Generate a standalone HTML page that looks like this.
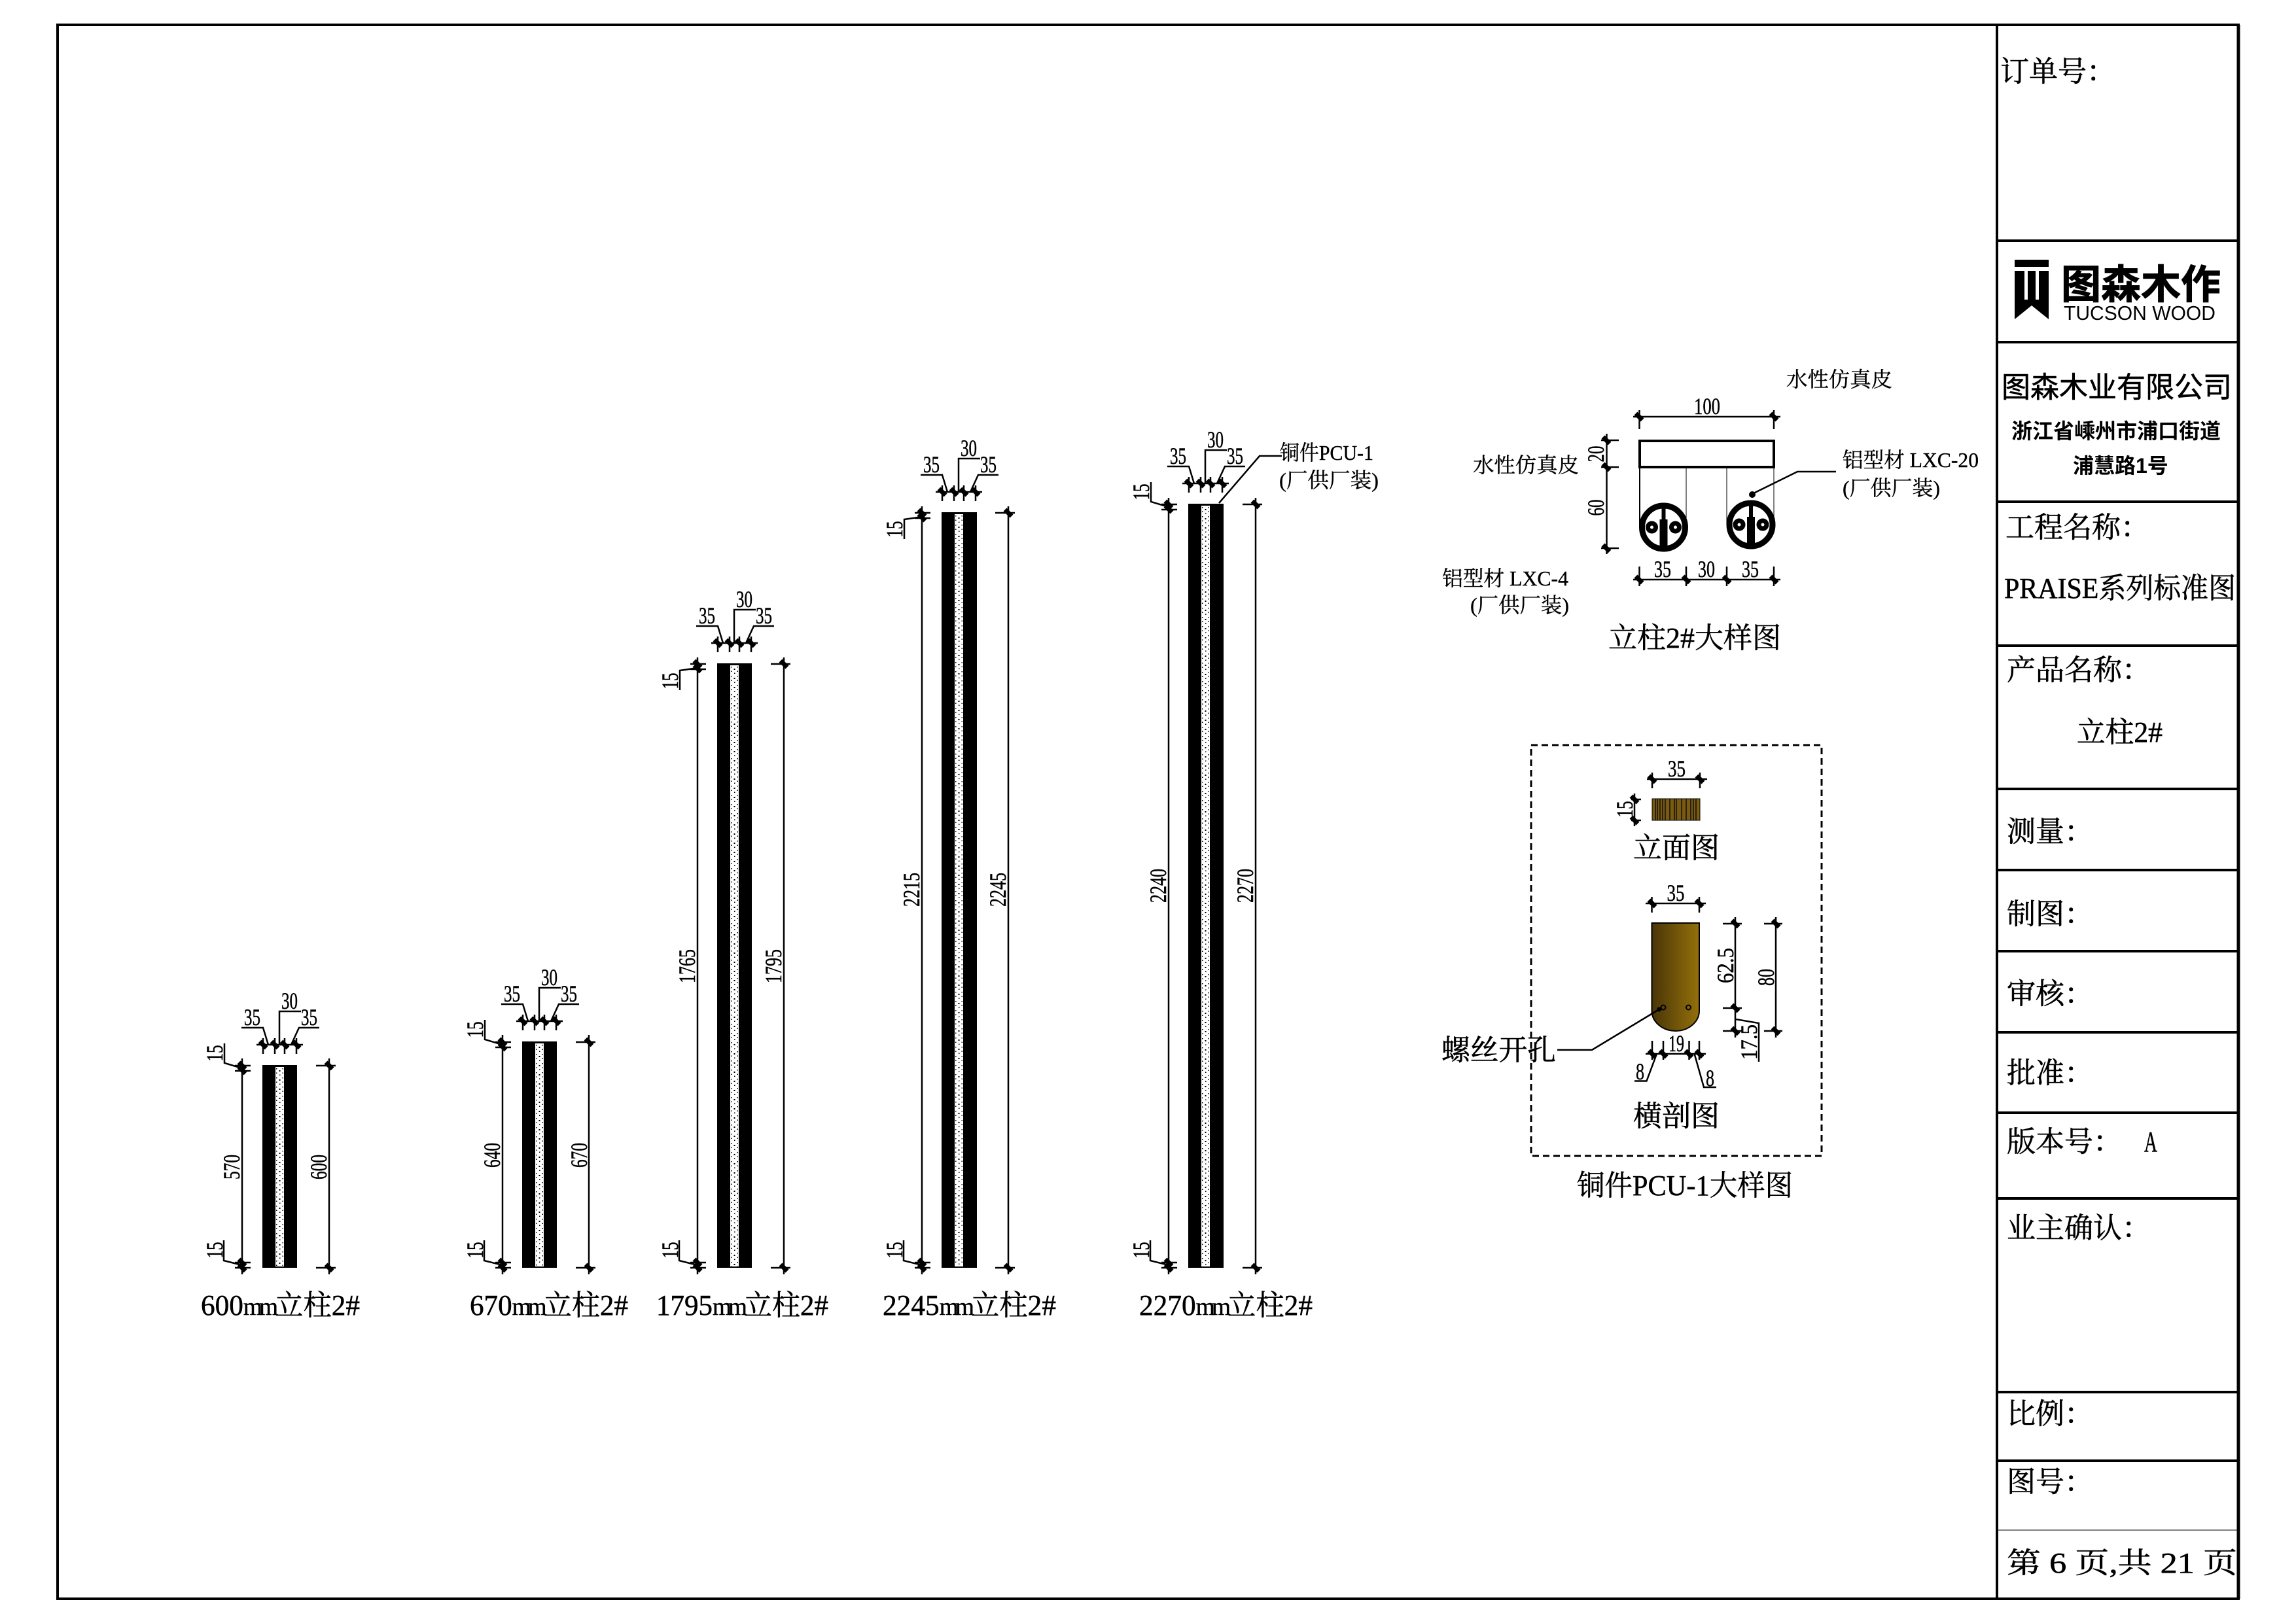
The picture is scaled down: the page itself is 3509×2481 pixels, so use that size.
<!DOCTYPE html>
<html lang="zh">
<head>
<meta charset="utf-8">
<title>立柱2#</title>
<style>
html,body{margin:0;padding:0;background:#fff;}
svg{display:block;}
text{fill:#000;}
.s{font-family:"Liberation Serif","Noto Serif CJK SC",serif;}
.d{font-family:"Liberation Serif",serif;font-size:36px;stroke:#000;stroke-width:.5px;}
.c{font-family:"Liberation Serif","Noto Serif CJK SC",serif;font-size:32px;stroke:#000;stroke-width:.4px;}
.l{font-family:"Liberation Serif","Noto Serif CJK SC",serif;font-size:44px;stroke:#000;stroke-width:.5px;}
.t{font-family:"Liberation Serif","Noto Serif CJK SC",serif;font-size:44px;stroke:#000;stroke-width:.6px;}
.h{font-family:"Liberation Sans","Noto Sans CJK SC",sans-serif;}
.ln{fill:none;stroke:#000;stroke-width:2.5;}
</style>
</head>
<body>
<svg xmlns="http://www.w3.org/2000/svg" width="3509" height="2481" viewBox="0 0 3509 2481">
<defs>
<path id="k" d="M-5,-5 L5,5" stroke="#000" stroke-width="7" fill="none"/>
<pattern id="h" patternUnits="userSpaceOnUse" x="20" y="3" width="13" height="14">
<rect width="13" height="14" fill="#fff"/>
<rect x="1" y="2" width="1.5" height="1.5" fill="#000"/><rect x="10.5" y="2" width="1.5" height="1.5" fill="#000"/>
<rect x="5.5" y="5" width="2" height="2" fill="#000"/><rect x="1" y="8.5" width="1.5" height="1.5" fill="#000"/>
<rect x="10.5" y="8.5" width="1.5" height="1.5" fill="#000"/><rect x="6" y="11.5" width="1.5" height="1.5" fill="#000"/>
</pattern>
<g id="top">
<path class="ln" d="M-9,-31H62M1,-41V-17M19,-41V-17M34,-41V-17M52,-41V-17M9,-31L1,-57H-32M26,-31V-82H59M44,-31L56,-57H87"/>
<use href="#k" x="1" y="-31"/><use href="#k" x="19" y="-31"/><use href="#k" x="34" y="-31"/><use href="#k" x="52" y="-31"/>
</g>
<g id="lt">
<path class="ln" d="M-11,1H13M-11,9H13"/>
<use href="#k" x="0" y="1"/><use href="#k" x="0" y="8"/>
</g>
<g id="lb">
<path class="ln" d="M-11,-8H13M-11,0H13M0,-4L-28,-11V-42"/>
<use href="#k" x="0" y="-8"/><use href="#k" x="0" y="0"/>
</g>
<g id="rt"><path class="ln" d="M-20,1H10"/><use href="#k" x="0" y="1"/></g>
<g id="rb"><path class="ln" d="M-20,0H10"/><use href="#k" x="0" y="0"/></g>
<linearGradient id="cu" x1="0" x2="1" y1="0" y2="0"><stop offset="0" stop-color="#4a3608"/><stop offset="1" stop-color="#94700a"/></linearGradient>
<g id="wheel">
<circle r="33" fill="#fff" stroke="#000" stroke-width="9"/>
<path d="M-3,-34H3V-12H6V28L10,34H-10L-6,28V-12H-3Z" fill="#000"/>
<circle cx="-18" r="6" fill="#fff" stroke="#000" stroke-width="7"/>
<circle cx="18" r="6" fill="#fff" stroke="#000" stroke-width="7"/>
</g>
</defs>

<rect width="3509" height="2481" fill="#fff"/>

<!-- frame -->
<rect x="88" y="38" width="3333" height="2406" fill="none" stroke="#000" stroke-width="4"/>
<path d="M3421,38V2444" stroke="#000" stroke-width="5" fill="none"/>
<path d="M3052,38V2444" stroke="#000" stroke-width="4" fill="none"/>
<path d="M3050,368H3421M3050,523H3421M3050,767H3421M3050,987H3421M3050,1206H3421M3050,1330H3421M3050,1454H3421M3050,1578H3421M3050,1701H3421M3050,1832H3421M3052,2128H3421M3050,2233H3421" stroke="#000" stroke-width="4" fill="none"/>
<path d="M3052,2339H3421" stroke="#000" stroke-width="1" fill="none"/>

<!-- title block -->
<text class="t" x="3057" y="124">订单号：</text>
<path d="M3079,397H3131V488L3105,467L3079,488Z" fill="#000"/>
<path d="M3079,408H3131V414H3079ZM3094,414H3099V458H3094ZM3111,414H3116V458H3111Z" fill="#fff"/>
<text class="h" x="3150" y="456" font-size="61" font-weight="700" stroke="#000" stroke-width="1">图森木作</text>
<text class="h" x="3154" y="489" font-size="31" textLength="232" lengthAdjust="spacingAndGlyphs">TUCSON WOOD</text>
<text class="h" x="3059" y="607" font-size="44" stroke="#000" stroke-width="0.6">图森木业有限公司</text>
<text class="h" x="3074" y="670" font-size="32" font-weight="700">浙江省嵊州市浦口街道</text>
<text class="h" x="3168" y="723" font-size="32" font-weight="700">浦慧路1号</text>
<text class="t" x="3065" y="821">工程名称：</text>
<text class="t" x="3063" y="914" textLength="354" lengthAdjust="spacingAndGlyphs">PRAISE系列标准图</text>
<text class="t" x="3067" y="1039">产品名称：</text>
<text class="t" x="3174" y="1134" textLength="131" lengthAdjust="spacingAndGlyphs">立柱2#</text>
<text class="t" x="3067" y="1286">测量：</text>
<text class="t" x="3067" y="1412">制图：</text>
<text class="t" x="3067" y="1534">审核：</text>
<text class="t" x="3067" y="1655">批准：</text>
<text class="t" x="3067" y="1760">版本号：</text>
<text class="t" x="3277" y="1760" textLength="20" lengthAdjust="spacingAndGlyphs">A</text>
<text class="t" x="3067" y="1892">业主确认：</text>
<text class="t" x="3067" y="2176">比例：</text>
<text class="t" x="3067" y="2280">图号：</text>
<text class="t" x="3067" y="2404" textLength="352" lengthAdjust="spacingAndGlyphs" xml:space="preserve">第 6 页,共 21 页</text>

<!-- column 1 : 600 -->
<g transform="translate(401,1628)"><rect width="53" height="310" fill="#000"/><rect x="20" y="3" width="13" height="305" fill="url(#h)"/></g>
<use href="#top" x="401" y="1628"/>
<text class="d" x="373" y="1567" textLength="25" lengthAdjust="spacingAndGlyphs">35</text>
<text class="d" x="430" y="1542" textLength="25" lengthAdjust="spacingAndGlyphs">30</text>
<text class="d" x="460" y="1567" textLength="25" lengthAdjust="spacingAndGlyphs">35</text>
<path class="ln" d="M370,1618V1948M503,1618V1948M370,1633L343,1625V1595"/>
<use href="#lt" x="370" y="1628"/><use href="#lb" x="370" y="1938"/><use href="#rt" x="503" y="1628"/><use href="#rb" x="503" y="1938"/>
<text class="d" text-anchor="middle" textLength="25" lengthAdjust="spacingAndGlyphs" transform="translate(340,1610) rotate(-90)">15</text>
<text class="d" text-anchor="middle" textLength="25" lengthAdjust="spacingAndGlyphs" transform="translate(340,1911) rotate(-90)">15</text>
<text class="d" text-anchor="middle" textLength="38" lengthAdjust="spacingAndGlyphs" transform="translate(366,1784) rotate(-90)">570</text>
<text class="d" text-anchor="middle" textLength="38" lengthAdjust="spacingAndGlyphs" transform="translate(499,1784) rotate(-90)">600</text>
<text class="l" x="307" y="2010" textLength="243" lengthAdjust="spacingAndGlyphs">600<tspan font-size="38" letter-spacing="-5">mm</tspan>立柱2#</text>

<!-- column 2 : 670 -->
<g transform="translate(798,1592)"><rect width="53" height="346" fill="#000"/><rect x="20" y="3" width="13" height="341" fill="url(#h)"/></g>
<use href="#top" x="798" y="1592"/>
<text class="d" x="770" y="1531" textLength="25" lengthAdjust="spacingAndGlyphs">35</text>
<text class="d" x="827" y="1506" textLength="25" lengthAdjust="spacingAndGlyphs">30</text>
<text class="d" x="857" y="1531" textLength="25" lengthAdjust="spacingAndGlyphs">35</text>
<path class="ln" d="M768,1582V1948M900,1582V1948M768,1597L741,1589V1559"/>
<use href="#lt" x="768" y="1592"/><use href="#lb" x="768" y="1938"/><use href="#rt" x="900" y="1592"/><use href="#rb" x="900" y="1938"/>
<text class="d" text-anchor="middle" textLength="25" lengthAdjust="spacingAndGlyphs" transform="translate(738,1574) rotate(-90)">15</text>
<text class="d" text-anchor="middle" textLength="25" lengthAdjust="spacingAndGlyphs" transform="translate(738,1911) rotate(-90)">15</text>
<text class="d" text-anchor="middle" textLength="38" lengthAdjust="spacingAndGlyphs" transform="translate(764,1766) rotate(-90)">640</text>
<text class="d" text-anchor="middle" textLength="38" lengthAdjust="spacingAndGlyphs" transform="translate(897,1766) rotate(-90)">670</text>
<text class="l" x="718" y="2010" textLength="242" lengthAdjust="spacingAndGlyphs">670<tspan font-size="38" letter-spacing="-5">mm</tspan>立柱2#</text>

<!-- column 3 : 1795 -->
<g transform="translate(1096,1014)"><rect width="53" height="924" fill="#000"/><rect x="20" y="3" width="13" height="919" fill="url(#h)"/></g>
<use href="#top" x="1096" y="1014"/>
<text class="d" x="1068" y="953" textLength="25" lengthAdjust="spacingAndGlyphs">35</text>
<text class="d" x="1125" y="928" textLength="25" lengthAdjust="spacingAndGlyphs">30</text>
<text class="d" x="1155" y="953" textLength="25" lengthAdjust="spacingAndGlyphs">35</text>
<path class="ln" d="M1066,1005V1948M1198,1005V1948M1066,1021L1039,1025V1055"/>
<use href="#lt" x="1066" y="1014"/><use href="#lb" x="1066" y="1938"/><use href="#rt" x="1198" y="1014"/><use href="#rb" x="1198" y="1938"/>
<text class="d" text-anchor="middle" textLength="25" lengthAdjust="spacingAndGlyphs" transform="translate(1036,1041) rotate(-90)">15</text>
<text class="d" text-anchor="middle" textLength="25" lengthAdjust="spacingAndGlyphs" transform="translate(1036,1911) rotate(-90)">15</text>
<text class="d" text-anchor="middle" textLength="52" lengthAdjust="spacingAndGlyphs" transform="translate(1062,1477) rotate(-90)">1765</text>
<text class="d" text-anchor="middle" textLength="52" lengthAdjust="spacingAndGlyphs" transform="translate(1194,1477) rotate(-90)">1795</text>
<text class="l" x="1003" y="2010" textLength="263" lengthAdjust="spacingAndGlyphs">1795<tspan font-size="38" letter-spacing="-5">mm</tspan>立柱2#</text>

<!-- column 4 : 2245 -->
<g transform="translate(1439,783)"><rect width="54" height="1155" fill="#000"/><rect x="20" y="3" width="13" height="1150" fill="url(#h)"/></g>
<use href="#top" x="1439" y="783"/>
<text class="d" x="1411" y="722" textLength="25" lengthAdjust="spacingAndGlyphs">35</text>
<text class="d" x="1468" y="697" textLength="25" lengthAdjust="spacingAndGlyphs">30</text>
<text class="d" x="1498" y="722" textLength="25" lengthAdjust="spacingAndGlyphs">35</text>
<path class="ln" d="M1409,774V1948M1541,774V1948M1409,790L1382,794V824"/>
<use href="#lt" x="1409" y="783"/><use href="#lb" x="1409" y="1938"/><use href="#rt" x="1541" y="783"/><use href="#rb" x="1541" y="1938"/>
<text class="d" text-anchor="middle" textLength="25" lengthAdjust="spacingAndGlyphs" transform="translate(1379,809) rotate(-90)">15</text>
<text class="d" text-anchor="middle" textLength="25" lengthAdjust="spacingAndGlyphs" transform="translate(1379,1911) rotate(-90)">15</text>
<text class="d" text-anchor="middle" textLength="52" lengthAdjust="spacingAndGlyphs" transform="translate(1405,1360) rotate(-90)">2215</text>
<text class="d" text-anchor="middle" textLength="52" lengthAdjust="spacingAndGlyphs" transform="translate(1537,1360) rotate(-90)">2245</text>
<text class="l" x="1349" y="2010" textLength="265" lengthAdjust="spacingAndGlyphs">2245<tspan font-size="38" letter-spacing="-5">mm</tspan>立柱2#</text>

<!-- column 5 : 2270 -->
<g transform="translate(1816,770)"><rect width="54" height="1168" fill="#000"/><rect x="20" y="3" width="13" height="1163" fill="url(#h)"/></g>
<use href="#top" x="1816" y="770"/>
<text class="d" x="1788" y="709" textLength="25" lengthAdjust="spacingAndGlyphs">35</text>
<text class="d" x="1845" y="684" textLength="25" lengthAdjust="spacingAndGlyphs">30</text>
<text class="d" x="1875" y="709" textLength="25" lengthAdjust="spacingAndGlyphs">35</text>
<path class="ln" d="M1786,761V1948M1919,761V1948M1786,775L1759,767V737M1863,769L1925,697H1959"/>
<use href="#lt" x="1786" y="770"/><use href="#lb" x="1786" y="1938"/><use href="#rt" x="1919" y="770"/><use href="#rb" x="1919" y="1938"/>
<text class="d" text-anchor="middle" textLength="25" lengthAdjust="spacingAndGlyphs" transform="translate(1756,752) rotate(-90)">15</text>
<text class="d" text-anchor="middle" textLength="25" lengthAdjust="spacingAndGlyphs" transform="translate(1756,1911) rotate(-90)">15</text>
<text class="d" text-anchor="middle" textLength="52" lengthAdjust="spacingAndGlyphs" transform="translate(1782,1354) rotate(-90)">2240</text>
<text class="d" text-anchor="middle" textLength="52" lengthAdjust="spacingAndGlyphs" transform="translate(1915,1354) rotate(-90)">2270</text>
<text class="l" x="1741" y="2010" textLength="265" lengthAdjust="spacingAndGlyphs">2270<tspan font-size="38" letter-spacing="-5">mm</tspan>立柱2#</text>
<text class="c" x="1956" y="703" textLength="143" lengthAdjust="spacingAndGlyphs">铜件PCU-1</text>
<text class="c" x="1955" y="745" textLength="152" lengthAdjust="spacingAndGlyphs">(厂供厂装)</text>

<!-- detail: 立柱2#大样图 -->
<text class="c" x="2730" y="591" textLength="162" lengthAdjust="spacingAndGlyphs">水性仿真皮</text>
<path class="ln" d="M2496,637H2721M2505.5,627V656M2711,627V656M2496,886H2721M2505.5,866V896M2577,866V896M2639,866V896M2711,866V896M2455.5,663V847M2447,673H2474M2447,714H2474M2447,838H2474"/>
<use href="#k" x="2505" y="637"/><use href="#k" x="2711" y="637"/>
<use href="#k" x="2505" y="886"/><use href="#k" x="2577" y="886"/><use href="#k" x="2639" y="886"/><use href="#k" x="2711" y="886"/>
<use href="#k" x="2455" y="673"/><use href="#k" x="2455" y="714"/><use href="#k" x="2455" y="838"/>
<text class="d" x="2589" y="633" textLength="40" lengthAdjust="spacingAndGlyphs">100</text>
<text class="d" text-anchor="middle" textLength="25" lengthAdjust="spacingAndGlyphs" transform="translate(2451,694) rotate(-90)">20</text>
<text class="d" text-anchor="middle" textLength="25" lengthAdjust="spacingAndGlyphs" transform="translate(2451,776) rotate(-90)">60</text>
<text class="d" x="2528" y="882" textLength="26" lengthAdjust="spacingAndGlyphs">35</text>
<text class="d" x="2595" y="882" textLength="26" lengthAdjust="spacingAndGlyphs">30</text>
<text class="d" x="2662" y="882" textLength="26" lengthAdjust="spacingAndGlyphs">35</text>
<rect x="2506" y="674" width="205" height="40" fill="none" stroke="#000" stroke-width="4"/>
<path d="M2506,714V806" stroke="#000" stroke-width="2" fill="none"/>
<path d="M2577,714V806M2639,714V802M2711,714V802" stroke="#000" stroke-width="1" fill="none"/>
<use href="#wheel" x="2542.5" y="806"/>
<use href="#wheel" x="2676" y="802"/>
<path class="ln" d="M2806,721H2747L2678,755" stroke-width="3"/>
<circle cx="2678" cy="756" r="5" fill="#000"/>
<text class="c" x="2251" y="722" textLength="162" lengthAdjust="spacingAndGlyphs">水性仿真皮</text>
<text class="c" x="2816" y="714" textLength="208" lengthAdjust="spacingAndGlyphs" xml:space="preserve">铝型材 LXC-20</text>
<text class="c" x="2816" y="757" textLength="149" lengthAdjust="spacingAndGlyphs">(厂供厂装)</text>
<text class="c" x="2204" y="895" textLength="193" lengthAdjust="spacingAndGlyphs" xml:space="preserve">铝型材 LXC-4</text>
<text class="c" x="2247" y="936" textLength="151" lengthAdjust="spacingAndGlyphs">(厂供厂装)</text>
<text class="l" x="2458" y="990" textLength="264" lengthAdjust="spacingAndGlyphs">立柱2#大样图</text>

<!-- detail: 铜件PCU-1 -->
<rect x="2340" y="1139" width="444" height="628" fill="none" stroke="#000" stroke-width="3" stroke-dasharray="10 6"/>
<path class="ln" d="M2517,1191H2609M2525,1181V1205M2598,1181V1205M2498,1213V1263M2493,1222H2508M2493,1254H2508"/>
<use href="#k" x="2525" y="1191"/><use href="#k" x="2598" y="1191"/><use href="#k" x="2498" y="1222"/><use href="#k" x="2498" y="1254"/>
<text class="d" x="2549" y="1187" textLength="27" lengthAdjust="spacingAndGlyphs">35</text>
<text class="d" text-anchor="middle" textLength="25" lengthAdjust="spacingAndGlyphs" transform="translate(2495,1237) rotate(-90)">15</text>
<rect x="2525" y="1221" width="73" height="33" fill="#7a5a10" stroke="#000" stroke-width="1"/>
<path d="M2530,1221V1254M2533,1221V1254M2537,1221V1254M2541,1221V1254M2545,1221V1254M2552,1221V1254M2559,1221V1254M2562,1221V1254M2570,1221V1254M2577,1221V1254M2584,1221V1254M2588,1221V1254M2592,1221V1254" stroke="#111" stroke-width="1.5" fill="none"/>
<text class="t" x="2496" y="1311" textLength="132" lengthAdjust="spacingAndGlyphs">立面图</text>
<path class="ln" d="M2515,1381H2607M2524.5,1371V1395M2597,1371V1395M2652,1402V1586M2633,1412H2662M2633,1541H2662M2633,1576H2662M2714,1402V1586M2696,1412H2724M2696,1576H2724M2652,1558L2688,1564V1623M2515,1611H2607M2525,1591V1620M2542,1591V1620M2581.5,1591V1620M2597,1591V1620M2532,1611L2516.5,1652.5H2498M2589.6,1611L2604,1662H2623"/>
<use href="#k" x="2525" y="1381"/><use href="#k" x="2597" y="1381"/>
<use href="#k" x="2652" y="1412"/><use href="#k" x="2652" y="1541"/><use href="#k" x="2652" y="1576"/>
<use href="#k" x="2714" y="1412"/><use href="#k" x="2714" y="1576"/>
<use href="#k" x="2525" y="1611"/><use href="#k" x="2542" y="1611"/><use href="#k" x="2581" y="1611"/><use href="#k" x="2597" y="1611"/>
<text class="d" x="2547.5" y="1377" textLength="27" lengthAdjust="spacingAndGlyphs">35</text>
<path d="M2524.5,1411H2597V1545A36.25,31 0 0 1 2524.5,1545Z" fill="url(#cu)" stroke="#000" stroke-width="2"/>
<circle cx="2542" cy="1540" r="3.5" fill="none" stroke="#000" stroke-width="2"/>
<circle cx="2580.5" cy="1540" r="3.5" fill="none" stroke="#000" stroke-width="2"/>
<path class="ln" d="M2380,1605H2433L2535.6,1543"/>
<circle cx="2535.6" cy="1543" r="3.5" fill="#000"/>
<text class="t" x="2203" y="1620" textLength="175" lengthAdjust="spacingAndGlyphs">螺丝开孔</text>
<text class="d" text-anchor="middle" textLength="54" lengthAdjust="spacingAndGlyphs" transform="translate(2649,1476) rotate(-90)">62.5</text>
<text class="d" text-anchor="middle" textLength="26" lengthAdjust="spacingAndGlyphs" transform="translate(2711,1494) rotate(-90)">80</text>
<text class="d" text-anchor="middle" textLength="54" lengthAdjust="spacingAndGlyphs" transform="translate(2685,1593) rotate(-90)">17.5</text>
<text class="d" x="2550" y="1607" textLength="24" lengthAdjust="spacingAndGlyphs">19</text>
<text class="d" x="2500" y="1650" textLength="13" lengthAdjust="spacingAndGlyphs">8</text>
<text class="d" x="2607" y="1660" textLength="13" lengthAdjust="spacingAndGlyphs">8</text>
<text class="t" x="2496" y="1721" textLength="132" lengthAdjust="spacingAndGlyphs">横剖图</text>
<text class="l" x="2410" y="1827" textLength="330" lengthAdjust="spacingAndGlyphs">铜件PCU-1大样图</text>
</svg>
</body>
</html>
